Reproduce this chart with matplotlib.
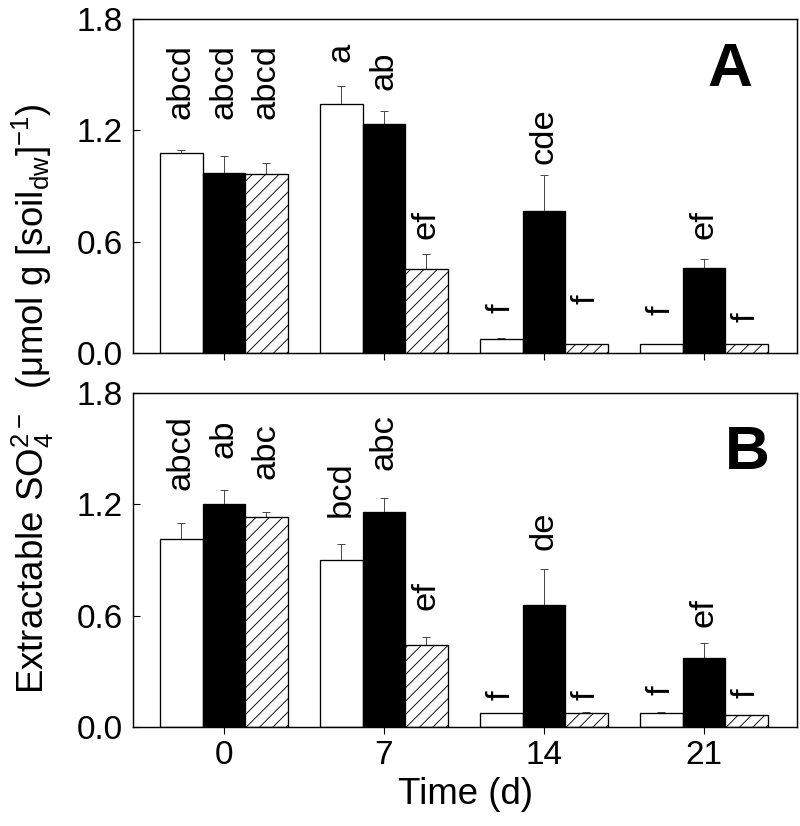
import numpy as np
import matplotlib
matplotlib.use("Agg")
import matplotlib.pyplot as plt

plt.rcParams["font.family"] = ["Liberation Sans", "DejaVu Sans"]
plt.rcParams["mathtext.fontset"] = "custom"
plt.rcParams["mathtext.rm"] = "Liberation Sans"
plt.rcParams["mathtext.it"] = "Liberation Sans"
plt.rcParams["hatch.linewidth"] = 0.8

DAYS = [0, 7, 14, 21]

# panel A
A_WHITE = [1.078, 1.340, 0.074, 0.048]
A_WHITE_ERR = [0.014, 0.097, 0.005, 0.0]
A_BLACK = [0.970, 1.232, 0.765, 0.458]
A_BLACK_ERR = [0.091, 0.072, 0.194, 0.048]
A_HATCH = [0.963, 0.454, 0.047, 0.047]
A_HATCH_ERR = [0.062, 0.078, 0.0, 0.0]

A_LETTERS = [
    ["abcd", "a", "f", "f"],
    ["abcd", "ab", "cde", "ef"],
    ["abcd", "ef", "f", "f"],
]
A_LETTER_Y = [
    [1.26, 1.568, 0.215, 0.205],
    [1.26, 1.417, 1.018, 0.614],
    [1.26, 0.614, 0.264, 0.167],
]

# panel B
B_WHITE = [1.015, 0.902, 0.077, 0.074]
B_WHITE_ERR = [0.082, 0.082, 0.0, 0.008]
B_BLACK = [1.203, 1.160, 0.657, 0.370]
B_BLACK_ERR = [0.076, 0.072, 0.196, 0.084]
B_HATCH = [1.130, 0.442, 0.077, 0.065]
B_HATCH_ERR = [0.027, 0.045, 0.005, 0.0]

B_LETTERS = [
    ["abcd", "bcd", "f", "f"],
    ["ab", "abc", "de", "ef"],
    ["abc", "ef", "f", "f"],
]
B_LETTER_Y = [
    [1.277, 1.133, 0.145, 0.172],
    [1.449, 1.385, 0.954, 0.540],
    [1.336, 0.630, 0.145, 0.156],
]

Y_TICKS = [0.0, 0.6, 1.2, 1.8]

BAR_W = 1.86
STYLES = [
    dict(color="white", hatch=None),
    dict(color="black", hatch=None),
    dict(color="white", hatch="//"),
]


def draw_panel(ax, series, errs, letters, letter_y, tag, tag_pos, show_xlabels):
    x = np.array(DAYS, dtype=float)
    offsets = [-BAR_W, 0.0, BAR_W]
    for vals, err, style, off, labs, ly in zip(series, errs, STYLES, offsets, letters, letter_y):
        xs = x + off
        ax.bar(xs, vals, width=BAR_W, color=style["color"], edgecolor="black",
               linewidth=1.2, hatch=style["hatch"], zorder=2)
        err = np.array(err)
        vals = np.array(vals)
        m = err > 0
        ax.errorbar(xs[m], vals[m], yerr=[np.zeros(m.sum()), err[m]], fmt="none",
                    ecolor="#4a4a4a", elinewidth=0.9, capsize=3.6, capthick=0.9, zorder=1)
        for xi, lab, yi in zip(xs, labs, ly):
            ax.text(xi, yi, lab, rotation=90, ha="center", va="bottom", fontsize=31)

    ax.text(tag_pos[0], tag_pos[1], tag, transform=ax.transAxes, fontsize=56,
            fontweight="bold", ha="center", va="center")

    ax.set_xlim(-3.98, 25.07)
    ax.set_ylim(0, 1.8)
    ax.set_yticks(Y_TICKS)
    ax.set_yticklabels([f"{t:.1f}" for t in Y_TICKS])
    ax.set_xticks(DAYS)
    if show_xlabels:
        ax.set_xticklabels([str(d) for d in DAYS])
    else:
        ax.set_xticklabels([])
    ax.tick_params(axis="y", direction="in", length=6.3, width=1.0, labelsize=30, pad=9)
    ax.tick_params(axis="x", direction="out", length=6.3, width=1.0, labelsize=30, pad=5)
    for sp in ax.spines.values():
        sp.set_linewidth(1.3)


fig = plt.figure(figsize=(10, 10.325), dpi=80)
ax_a = fig.add_axes([0.16625, 0.5726, 0.83, 0.4044])
ax_b = fig.add_axes([0.16625, 0.1199, 0.83, 0.4044])

draw_panel(ax_a, [A_WHITE, A_BLACK, A_HATCH], [A_WHITE_ERR, A_BLACK_ERR, A_HATCH_ERR],
           A_LETTERS, A_LETTER_Y, "A", (0.899, 0.847), False)
draw_panel(ax_b, [B_WHITE, B_BLACK, B_HATCH], [B_WHITE_ERR, B_BLACK_ERR, B_HATCH_ERR],
           B_LETTERS, B_LETTER_Y, "B", (0.925, 0.819), True)

ax_b.set_xlabel("Time (d)", fontsize=33, labelpad=6)

fig.text(0.041, 0.517,
         "Extractable SO$_4^{2-}$  (\u03bcmol g [soil$_{dw}$]$^{-1}$)",
         rotation=90, ha="center", va="center", fontsize=33)

fig.savefig("out.png", dpi=80)
